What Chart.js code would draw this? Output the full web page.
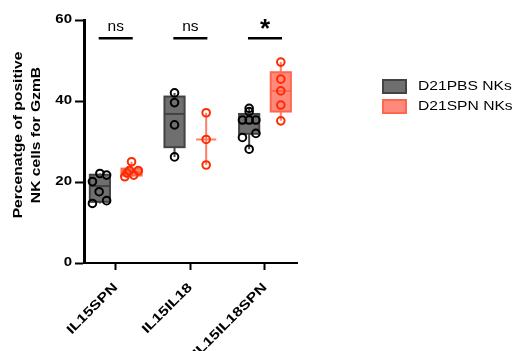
<!DOCTYPE html>
<html><head><meta charset="utf-8">
<script src="https://cdn.jsdelivr.net/npm/chart.js@4.4.1/dist/chart.umd.min.js"></script>
<style>html,body{margin:0;padding:0;background:#fff;overflow:hidden}#wrap{width:513px;height:351px;position:relative}</style>
</head><body><div id="wrap"><canvas id="c" width="513" height="351"></canvas></div>
<script>
// ---------- data ----------
const CATEGORIES = ['IL15SPN', 'IL15IL18', 'IL15IL18SPN'];
const SERIES_NAMES = ['D21PBS NKs', 'D21SPN NKs'];
const Y_TICKS = [0, 20, 40, 60];
const Y_TITLE = ['Percenatge of positive', 'NK cells for GzmB'];
const SIG_LABELS = ['ns', 'ns', '*'];
const SIG_LEVEL = 55.5;

// individual points (value, horizontal jitter in category units)
const PBS_IL15SPN = [22.1, 21.7, 20.1, 17.6, 14.7, 15.4];
const PBS_IL15SPN_JIT = [0, 0.09, -0.10, -0.01, -0.10, 0.09];
const PBS_IL15IL18 = [42.0, 39.6, 34.1, 26.2];
const PBS_IL15IL18_JIT = [0, 0, 0, 0];
const PBS_IL15IL18SPN = [38.2, 37.4, 35.3, 35.3, 35.3, 32.0, 31.0, 28.1];
const PBS_IL15IL18SPN_JIT = [0, 0, -0.09, 0, 0.09, 0.09, -0.09, 0];

const SPN_IL15SPN = [25.0, 22.8, 22.8, 21.7, 21.3, 22.2];
const SPN_IL15SPN_JIT = [0, -0.03, 0.09, 0.03, -0.09, -0.06];
const SPN_IL15IL18 = [37.1, 30.5, 24.2];
const SPN_IL15IL18_JIT = [0, 0, 0];
const SPN_IL15IL18SPN = [49.6, 45.4, 42.5, 39.0, 35.1];
const SPN_IL15IL18SPN_JIT = [0, 0, 0, 0, 0];

// box summaries (per category)
const PBS_MIN = [14.7, 26.2, 28.1];
const PBS_Q1  = [15.1, 28.6, 31.9];
const PBS_MED = [19.0, 36.8, 34.5];
const PBS_Q3  = [21.8, 41.1, 36.8];
const PBS_MAX = [22.1, 42.0, 38.2];
const SPN_MIN = [21.3, 24.2, 35.1];
const SPN_Q1  = [21.6, 30.5, 37.4];
const SPN_MED = [22.5, 30.5, 42.5];
const SPN_Q3  = [23.3, 30.5, 47.1];
const SPN_MAX = [25.0, 37.1, 49.6];

// ---------- style ----------
const FONT = "'Liberation Sans', Arial, Helvetica, sans-serif";
const GROUP_OFFSET = 0.212;
const BOX_HALF = 0.135;
const PBS_STYLE = {fill: '#6f6f6f', stroke: '#434343', whisker: '#4a4a4a', point: '#000000'};
const SPN_STYLE = {fill: '#ff8a7b', stroke: '#ff6650', whisker: '#ff7d6a', point: '#ff2a00'};

// horizontal text stretch (the reference text is drawn wide)
let TEXT_STRETCH = 1.25;
const canvas = document.getElementById('c');
const ctx0 = canvas.getContext('2d');
const protoFill = CanvasRenderingContext2D.prototype.fillText;
const protoMeasure = CanvasRenderingContext2D.prototype.measureText;
ctx0.fillText = function (t, x, y, mw) {
  if (TEXT_STRETCH === 1) {
    return mw === undefined ? protoFill.call(this, t, x, y) : protoFill.call(this, t, x, y, mw);
  }
  this.save();
  this.translate(x, y);
  this.scale(TEXT_STRETCH, 1);
  if (mw === undefined) protoFill.call(this, t, 0, 0);
  else protoFill.call(this, t, 0, 0, mw / TEXT_STRETCH);
  this.restore();
};
ctx0.measureText = function (t) {
  const m = protoMeasure.call(this, t);
  const s = TEXT_STRETCH;
  return {
    width: m.width * s,
    actualBoundingBoxLeft: m.actualBoundingBoxLeft * s,
    actualBoundingBoxRight: m.actualBoundingBoxRight * s,
    actualBoundingBoxAscent: m.actualBoundingBoxAscent,
    actualBoundingBoxDescent: m.actualBoundingBoxDescent,
    fontBoundingBoxAscent: m.fontBoundingBoxAscent,
    fontBoundingBoxDescent: m.fontBoundingBoxDescent
  };
};

Chart.defaults.font.family = FONT;
Chart.defaults.color = '#000';

function pts(values, jit, cat, side) {
  return values.map((v, i) => ({x: cat + side * GROUP_OFFSET + jit[i], y: v}));
}

const pbsPoints = [].concat(
  pts(PBS_IL15SPN, PBS_IL15SPN_JIT, 0, -1),
  pts(PBS_IL15IL18, PBS_IL15IL18_JIT, 1, -1),
  pts(PBS_IL15IL18SPN, PBS_IL15IL18SPN_JIT, 2, -1));
const spnPoints = [].concat(
  pts(SPN_IL15SPN, SPN_IL15SPN_JIT, 0, 1),
  pts(SPN_IL15IL18, SPN_IL15IL18_JIT, 1, 1),
  pts(SPN_IL15IL18SPN, SPN_IL15IL18SPN_JIT, 2, 1));

function drawBoxes(chart, side, mins, q1s, meds, q3s, maxs, st) {
  const ctx = chart.ctx, xs = chart.scales.x, ys = chart.scales.y;
  const hw = xs.getPixelForValue(BOX_HALF) - xs.getPixelForValue(0);
  for (let i = 0; i < CATEGORIES.length; i++) {
    const cx = xs.getPixelForValue(i + side * GROUP_OFFSET);
    const yMin = ys.getPixelForValue(mins[i]), yQ1 = ys.getPixelForValue(q1s[i]);
    const yMed = ys.getPixelForValue(meds[i]), yQ3 = ys.getPixelForValue(q3s[i]);
    const yMax = ys.getPixelForValue(maxs[i]);
    ctx.save();
    ctx.lineWidth = 2;
    ctx.strokeStyle = st.whisker;
    ctx.beginPath();
    ctx.moveTo(cx, yMin); ctx.lineTo(cx, yQ1);
    ctx.moveTo(cx, yQ3); ctx.lineTo(cx, yMax);
    ctx.stroke();
    if (yQ1 - yQ3 > 0.5) {
      ctx.fillStyle = st.fill;
      ctx.fillRect(cx - hw, yQ3, 2 * hw, yQ1 - yQ3);
      ctx.strokeStyle = st.stroke;
      ctx.strokeRect(cx - hw, yQ3, 2 * hw, yQ1 - yQ3);
    } else {
      ctx.strokeStyle = st.whisker;
    }
    ctx.beginPath();
    ctx.moveTo(cx - hw, yMed); ctx.lineTo(cx + hw, yMed);
    ctx.stroke();
    ctx.restore();
  }
}

const boxPlugin = {
  id: 'boxes',
  beforeDatasetsDraw(chart) {
    drawBoxes(chart, -1, PBS_MIN, PBS_Q1, PBS_MED, PBS_Q3, PBS_MAX, PBS_STYLE);
    drawBoxes(chart, 1, SPN_MIN, SPN_Q1, SPN_MED, SPN_Q3, SPN_MAX, SPN_STYLE);
  }
};

const annotPlugin = {
  id: 'annot',
  afterDraw(chart) {
    const ctx = chart.ctx, xs = chart.scales.x, ys = chart.scales.y;
    // significance bars
    const yl = ys.getPixelForValue(SIG_LEVEL);
    ctx.save();
    for (let i = 0; i < CATEGORIES.length; i++) {
      const x1 = xs.getPixelForValue(i - 0.228), x2 = xs.getPixelForValue(i + 0.228);
      ctx.strokeStyle = '#000'; ctx.lineWidth = 2.4;
      ctx.beginPath(); ctx.moveTo(x1, yl); ctx.lineTo(x2, yl); ctx.stroke();
      const cx = xs.getPixelForValue(i);
      TEXT_STRETCH = 1;
      ctx.fillStyle = '#000';
      ctx.textAlign = 'center';
      ctx.textBaseline = 'alphabetic';
      if (SIG_LABELS[i] === '*') {
        ctx.font = "bold 26px " + FONT;
        ctx.fillText(SIG_LABELS[i], cx, yl - 1);
      } else {
        ctx.font = "15.5px " + FONT;
        ctx.fillText(SIG_LABELS[i], cx, yl - 7);
      }
      TEXT_STRETCH = 1.25;
    }
    // y-axis title
    ctx.font = "bold 12.5px " + FONT;
    ctx.textAlign = 'center';
    ctx.textBaseline = 'middle';
    Y_TITLE.forEach((line, k) => {
      ctx.save();
      ctx.translate(18.5 + 18 * k, 135);
      ctx.rotate(-Math.PI / 2);
      ctx.fillText(line, 0, 0);
      ctx.restore();
    });
    // legend
    const styles = [PBS_STYLE, SPN_STYLE];
    SERIES_NAMES.forEach((name, k) => {
      const y0 = 80 + 20 * k;
      ctx.fillStyle = styles[k].fill;
      ctx.fillRect(383, y0, 23, 13);
      ctx.strokeStyle = styles[k].stroke; ctx.lineWidth = 2;
      ctx.strokeRect(383, y0, 23, 13);
      ctx.fillStyle = '#000';
      ctx.font = "12.5px " + FONT;
      ctx.textAlign = 'left';
      ctx.textBaseline = 'middle';
      ctx.fillText(name, 418, y0 + 6.5);
    });
    ctx.restore();
  }
};

new Chart(ctx0, {
  type: 'scatter',
  data: {
    datasets: [
      {label: SERIES_NAMES[0], data: pbsPoints, pointRadius: 3.8, pointBorderWidth: 2,
       borderColor: PBS_STYLE.point, backgroundColor: 'rgba(0,0,0,0)', showLine: false},
      {label: SERIES_NAMES[1], data: spnPoints, pointRadius: 3.8, pointBorderWidth: 2,
       borderColor: SPN_STYLE.point, backgroundColor: 'rgba(0,0,0,0)', showLine: false}
    ]
  },
  options: {
    responsive: false,
    animation: false,
    devicePixelRatio: 1,
    layout: {padding: {top: 20, right: 216, bottom: 0, left: 0}},
    plugins: {legend: {display: false}, tooltip: {enabled: false}},
    scales: {
      x: {
        type: 'linear', min: -0.425, max: 2.429,
        afterBuildTicks: s => { s.ticks = CATEGORIES.map((c, i) => ({value: i})); },
        afterFit: s => { s.height = 88; },
        ticks: {callback: v => CATEGORIES[v], font: {size: 13, weight: 'bold'},
                minRotation: 45, maxRotation: 45, autoSkip: false, padding: 10, color: '#000'},
        grid: {display: true, drawOnChartArea: false, drawTicks: true, tickLength: 7, tickWidth: 2, tickColor: '#000'},
        border: {display: true, color: '#000', width: 2}
      },
      y: {
        min: 0, max: 60,
        afterBuildTicks: s => { s.ticks = Y_TICKS.map(v => ({value: v})); },
        afterFit: s => { s.width = 84; },
        ticks: {font: {size: 12, weight: 'bold'}, padding: 3, color: '#000'},
        grid: {display: true, drawOnChartArea: false, drawTicks: true, tickLength: 9, tickWidth: 2, tickColor: '#000'},
        border: {display: true, color: '#000', width: 3}
      }
    }
  },
  plugins: [boxPlugin, annotPlugin]
});
</script></body></html>
